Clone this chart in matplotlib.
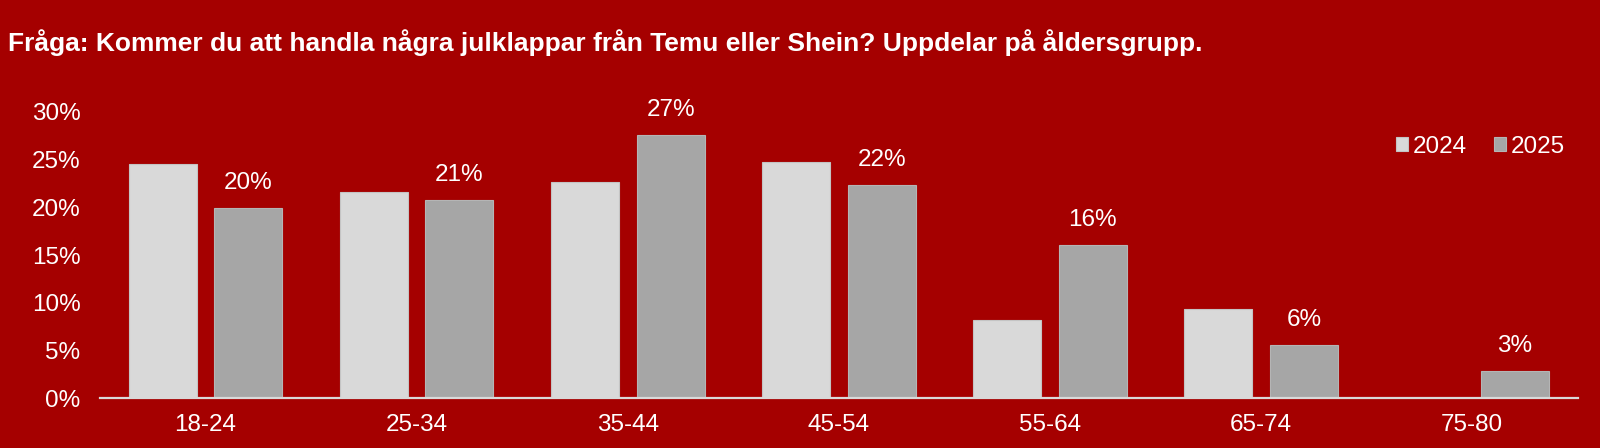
import matplotlib.pyplot as plt
import numpy as np

plt.rcParams['font.family'] = ['Liberation Sans', 'DejaVu Sans']

BG = '#A50000'
C2024 = '#D9D9D9'
C2025 = '#A6A6A6'

title = 'Fråga: Kommer du att handla några julklappar från Temu eller Shein? Uppdelar på åldersgrupp.'
age_groups = ['18-24', '25-34', '35-44', '45-54', '55-64', '65-74', '75-80']
share_2024 = [24.5, 21.6, 22.6, 24.7, 8.2, 9.4, 0.0]
share_2025 = [19.9, 20.8, 27.5, 22.3, 16.1, 5.6, 2.9]
labels_2025 = ['20%', '21%', '27%', '22%', '16%', '6%', '3%']
y_ticks = [0, 5, 10, 15, 20, 25, 30]


def main() -> None:
  fig = plt.figure(figsize=(16, 4.48), dpi=100, facecolor=BG)
  ax = fig.add_axes([0.0625, 0.1105, 0.9235, 0.6405])
  ax.set_facecolor(BG)

  x = np.arange(len(age_groups))
  w = 0.322
  off = 0.203
  ax.bar(x - off, share_2024, w, color=C2024, edgecolor='#C4C4C4', linewidth=0.8, label='2024')
  bars = ax.bar(x + off, share_2025, w, color=C2025, edgecolor='#B5B5B5', linewidth=0.8, label='2025')

  for b, txt in zip(bars, labels_2025):
    ax.annotate(txt, (b.get_x() + b.get_width() / 2, b.get_height()),
                xytext=(0, 18), textcoords='offset points',
                ha='center', va='center', color='white', fontsize=17.5)

  ax.set_xlim(-0.5, len(age_groups) - 0.5)
  ax.set_ylim(0, 30)
  ax.set_yticks(y_ticks)
  ax.set_yticklabels([f'{t}%' for t in y_ticks])
  ax.set_xticks(x)
  ax.set_xticklabels(age_groups)
  ax.tick_params(axis='both', length=0, colors='white', labelsize=17.5)
  ax.tick_params(axis='y', pad=14)
  ax.tick_params(axis='x', pad=11)

  for s in ['top', 'right', 'left']:
    ax.spines[s].set_visible(False)
  ax.spines['bottom'].set_color('#D9D9D9')
  ax.spines['bottom'].set_linewidth(1.6)

  leg = ax.legend(loc='upper right', bbox_to_anchor=(0.998, 0.95), ncol=2, frameon=False,
                  fontsize=17.5, handlelength=0.5, handleheight=0.5,
                  handletextpad=0.2, columnspacing=1.1, borderaxespad=0)
  for t in leg.get_texts():
    t.set_color('white')

  fig.text(0.005, 0.905, title, color='white', fontsize=19, fontweight='bold',
           ha='left', va='center')

  fig.savefig('out.png', dpi=100, facecolor=BG)


if __name__ == '__main__':
  main()
